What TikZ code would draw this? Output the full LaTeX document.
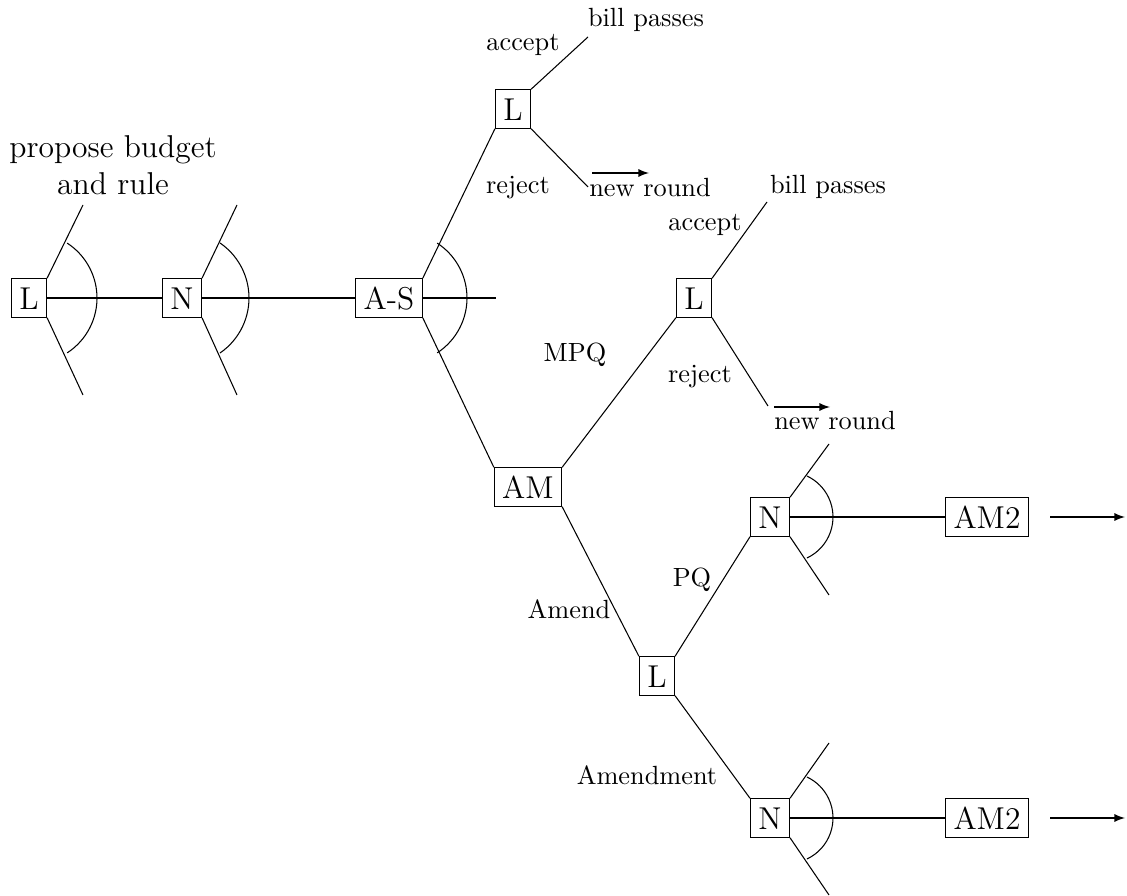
\documentclass[tikz,border=0pt]{standalone}
\usetikzlibrary{arrows}
\begin{document}
\begin{tikzpicture}[x=0.38pt,y=-0.38pt,
  player/.style={draw,font=\large,inner sep=3pt,minimum height=14.6pt,text height=8.6pt,text depth=0pt},
  lbl/.style={inner sep=0pt},
  arrowline/.style={-latex},
  arcline/.style={}]
\useasboundingbox (0,0) rectangle (1127,896);
% players
\node[player] (L1) at (29,298) {L};
\node[player] (N1) at (182,298) {N};
\node[player] (AS) at (389,298) {A-S};
\node[player] (Ltop) at (513,109) {L};
\node[player] (Lmid) at (694,298) {L};
\node[player] (AM) at (528,487) {AM};
\node[player] (Llow) at (657,676) {L};
\node[player] (Nup) at (770,517) {N};
\node[player] (AMa) at (987,517) {AM2};
\node[player] (Nlow) at (770,818) {N};
\node[player] (AMb) at (987,818) {AM2};
% free ends
\coordinate (L1u) at (83,205);
\coordinate (L1d) at (83,395);
\coordinate (N1u) at (237,205);
\coordinate (N1d) at (237,395);
\coordinate (ASe) at (496,298);
\coordinate (Ltopa) at (588,37);
\coordinate (Ltopr) at (588,187);
\coordinate (Lmida) at (767,202);
\coordinate (Lmidr) at (768,406);
\coordinate (Nupu) at (829,444);
\coordinate (Nupd) at (829,595);
\coordinate (Nlowu) at (829,743);
\coordinate (Nlowd) at (829,895);
\coordinate (nr1s) at (592,173);
\coordinate (nr1e) at (649,173);
\coordinate (nr2s) at (774,407);
\coordinate (nr2e) at (830,407);
\coordinate (aas) at (1050,517);
\coordinate (aae) at (1125,517);
\coordinate (abs) at (1050,818);
\coordinate (abe) at (1125,818);
% connectors
\draw (L1.east) -- (N1.west);
\draw (N1.east) -- (AS.west);
\draw (L1.north east) -- (L1u);
\draw (L1.south east) -- (L1d);
\draw (N1.north east) -- (N1u);
\draw (N1.south east) -- (N1d);
\draw (AS.east) -- (ASe);
\draw (AS.north east) -- (Ltop.south west);
\draw (AS.south east) -- (AM.north west);
\draw (Ltop.north east) -- (Ltopa);
\draw (Ltop.south east) -- (Ltopr);
\draw (AM.north east) -- (Lmid.south west);
\draw (AM.south east) -- (Llow.north west);
\draw (Lmid.north east) -- (Lmida);
\draw (Lmid.south east) -- (Lmidr);
\draw (Llow.north east) -- (Nup.south west);
\draw (Llow.south east) -- (Nlow.north west);
\draw (Nup.east) -- (AMa.west);
\draw (Nlow.east) -- (AMb.west);
\draw (Nup.north east) -- (Nupu);
\draw (Nup.south east) -- (Nupd);
\draw (Nlow.north east) -- (Nlowu);
\draw (Nlow.south east) -- (Nlowd);
\draw[arrowline] (nr1s) -- (nr1e);
\draw[arrowline] (nr2s) -- (nr2e);
\draw[arrowline] (aas) -- (aae);
\draw[arrowline] (abs) -- (abe);
% arcs
\draw[arcline] (L1.center) ++(2.6,0) ++(57:65.4) arc[start angle=57,end angle=-57,radius=65.4];
\draw[arcline] (N1.center) ++(0.3,0) ++(55.6:66.7) arc[start angle=55.6,end angle=-55.6,radius=66.7];
\draw[arcline] (AS.center) ++(12.6,0) ++(57:65.4) arc[start angle=57,end angle=-57,radius=65.4];
\draw[arcline] (Nup.center) ++(17.7,0) ++(64.8:45.3) arc[start angle=64.8,end angle=-64.8,radius=45.3];
\draw[arcline] (Nlow.center) ++(17.7,0) ++(64.8:45.3) arc[start angle=64.8,end angle=-64.8,radius=45.3];
% labels
\node[lbl,font=\large,align=center] (prop) at (113,165) {propose budget\\and rule};
\node[lbl] (bp1) at (646,20) {bill passes};
\node[lbl] (acc1) at (523,45) {accept};
\node[lbl] (rej1) at (518,188) {reject};
\node[lbl] (nr1) at (650,188) {new round};
\node[lbl] (bp2) at (828,187) {bill passes};
\node[lbl] (acc2) at (705,225) {accept};
\node[lbl] (rej2) at (700,377) {reject};
\node[lbl] (nr2) at (835,421) {new round};
\node[lbl] (mpq) at (575,355) {MPQ};
\node[lbl] (pq) at (692,580) {PQ};
\node[lbl] (amd) at (569,609) {Amend};
\node[lbl] (amdt) at (647,775) {Amendment};
\end{tikzpicture}
\end{document}
